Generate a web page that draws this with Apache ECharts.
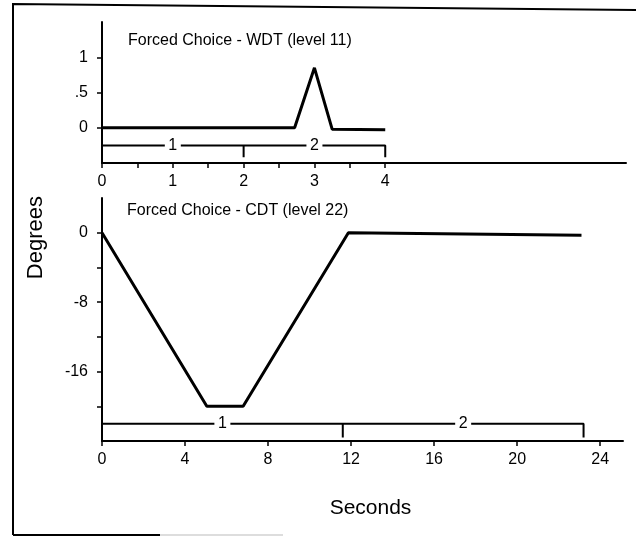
<!DOCTYPE html>
<html>
<head>
<meta charset="utf-8">
<script src="https://cdn.jsdelivr.net/npm/echarts@6/dist/echarts.min.js"></script>
<style>
html,body{margin:0;padding:0;background:#fff;}
#main{width:636px;height:537px;}
</style>
</head>
<body>
<div id="main"></div>
<script>
// WDT (level 11) trace
var wdtTime = [0, 2.72, 3.0, 3.25, 4];
var wdtDeg = [0, 0, 0.85, -0.02, -0.03];
// CDT (level 22) trace
var cdtTime = [0, 5.05, 6.8, 11.87, 23.1];
var cdtDeg = [0, -20, -20, 0, -0.3];

// phase boundaries (seconds) and phase names
var wdtPhase = [0, 2, 4];
var cdtPhase = [0, 11.6, 23.2];
var phaseNames = ['1', '2'];

// tick values
var wdtXTicks = [0, 0.5, 1, 1.5, 2, 2.5, 3, 3.5, 4];
var wdtXLabels = [0, 1, 2, 3, 4];
var wdtYTicks = [0, 0.5, 1];
var wdtYLabels = ['0', '.5', '1'];
var cdtXTicks = [0, 4, 8, 12, 16, 20, 24];
var cdtYTicks = [0, -4, -8, -12, -16, -20];
var cdtYLabels = [0, -8, -16];

var font = 'Liberation Sans, Arial, sans-serif';

function pairs(xs, ys) {
    var out = [];
    for (var i = 0; i < xs.length; i++) {
        out.push([xs[i], ys[i]]);
    }
    return out;
}

// bracket line under each trace: flat line with a drop at each phase end
function bracket(phase, y, y2) {
    var pts = [[phase[0], y]];
    for (var i = 1; i < phase.length; i++) {
        pts.push([phase[i], y]);
        pts.push([phase[i], y2]);
        if (i < phase.length - 1) pts.push([phase[i], y]);
    }
    return pts;
}

// phase numbers sit on the bracket, white box under them breaks the line
function phaseMarks(phase, y) {
    var out = [];
    for (var i = 0; i < phase.length - 1; i++) {
        out.push({coord: [(phase[i] + phase[i + 1]) / 2, y], value: phaseNames[i]});
    }
    return out;
}

function bracketSeries(xi, phase, y, y2) {
    return {
        type: 'line', xAxisIndex: xi, yAxisIndex: xi,
        data: bracket(phase, y, y2),
        symbol: 'none', lineStyle: {color: '#000', width: 2},
        markPoint: {
            symbol: 'rect', symbolSize: [16, 14], silent: true,
            itemStyle: {color: '#fff', opacity: 1},
            label: {show: true, position: 'inside', formatter: '{c}',
                color: '#000', fontSize: 16, fontFamily: font},
            data: phaseMarks(phase, y)
        }
    };
}

var axisLine = {show: true, onZero: false, lineStyle: {color: '#000', width: 2}};
var tick = {show: true, inside: false, length: 5, lineStyle: {color: '#000', width: 1.5}};
var label = {color: '#000', fontSize: 16, fontFamily: font};

var myChart = echarts.init(document.getElementById('main'));
myChart.setOption({
    animation: false,
    backgroundColor: '#fff',
    title: [{
        text: 'Forced Choice - WDT (level 11)',
        left: 128, top: 33, padding: 0,
        textStyle: {color: '#000', fontSize: 16, fontWeight: 'normal', fontFamily: font}
    }, {
        text: 'Forced Choice - CDT (level 22)',
        left: 127, top: 203, padding: 0,
        textStyle: {color: '#000', fontSize: 16, fontWeight: 'normal', fontFamily: font}
    }],
    grid: [
        {left: 102, top: 22, width: 524, height: 141},
        {left: 102, top: 198, width: 521, height: 243}
    ],
    xAxis: [{
        gridIndex: 0, type: 'value', min: 0, max: 7.4,
        axisLine: axisLine,
        axisTick: Object.assign({}, tick, {customValues: wdtXTicks}),
        axisLabel: Object.assign({}, label, {margin: 11, customValues: wdtXLabels}),
        splitLine: {show: false}
    }, {
        gridIndex: 1, type: 'value', min: 0, max: 25.1,
        name: 'Seconds', nameLocation: 'middle', nameGap: 57,
        nameTextStyle: {color: '#000', fontSize: 21, fontFamily: font, padding: [0, 0, 0, 16]},
        axisLine: axisLine,
        axisTick: Object.assign({}, tick, {customValues: cdtXTicks}),
        axisLabel: Object.assign({}, label, {margin: 11, customValues: cdtXTicks}),
        splitLine: {show: false}
    }],
    yAxis: [{
        gridIndex: 0, type: 'value', min: -0.5, max: 1.5,
        axisLine: axisLine,
        axisTick: Object.assign({}, tick, {customValues: wdtYTicks}),
        axisLabel: Object.assign({}, label, {
            margin: 14, customValues: wdtYTicks,
            formatter: function (v) { return wdtYLabels[wdtYTicks.indexOf(v)]; }
        }),
        splitLine: {show: false}
    }, {
        gridIndex: 1, type: 'value', min: -24, max: 4,
        axisLine: axisLine,
        axisTick: Object.assign({}, tick, {customValues: cdtYTicks}),
        axisLabel: Object.assign({}, label, {margin: 14, customValues: cdtYLabels}),
        splitLine: {show: false}
    }],
    graphic: [{
        type: 'text', left: 25, top: 196, rotation: Math.PI / 2,
        style: {text: 'Degrees', fill: '#000', fontSize: 22, fontFamily: font}
    }, {
        type: 'polyline',
        shape: {points: [[13, 535], [13, 4], [636, 10]]},
        style: {stroke: '#000', lineWidth: 2, fill: null}
    }, {
        type: 'line',
        shape: {x1: 13, y1: 535, x2: 160, y2: 535},
        style: {stroke: '#000', lineWidth: 2}
    }, {
        type: 'line',
        shape: {x1: 160, y1: 535, x2: 283, y2: 535},
        style: {stroke: '#bbb', lineWidth: 1}
    }],
    series: [{
        type: 'line', xAxisIndex: 0, yAxisIndex: 0,
        data: pairs(wdtTime, wdtDeg),
        symbol: 'none', lineStyle: {color: '#000', width: 3}
    }, {
        type: 'line', xAxisIndex: 1, yAxisIndex: 1,
        data: pairs(cdtTime, cdtDeg),
        symbol: 'none', lineStyle: {color: '#000', width: 3}
    },
    bracketSeries(0, wdtPhase, -0.25, -0.42),
    bracketSeries(1, cdtPhase, -22, -23.6)
    ]
});
</script>
</body>
</html>
